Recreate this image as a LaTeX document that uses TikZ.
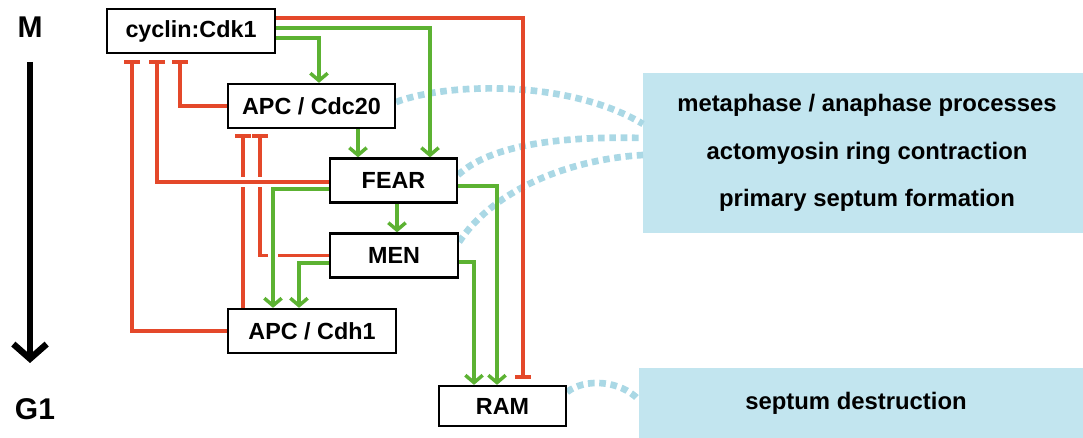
\documentclass[tikz,border=0pt]{standalone}
\usepackage{fontspec}
\setmainfont{Liberation Sans}
\usetikzlibrary{arrows.meta}
\pgfdeclarelayer{bg}\pgfsetlayers{bg,main}
\definecolor{inhred}{RGB}{228,72,42}
\definecolor{actgreen}{RGB}{92,178,50}
\definecolor{dashblue}{RGB}{170,216,229}
\definecolor{boxblue}{RGB}{194,229,239}
\begin{document}
\begin{tikzpicture}[x=0.75pt,y=-0.75pt,
  lbl/.style={font=\fontsize{17.5}{21}\selectfont\bfseries},
  infotext/.style={font=\fontsize{17.9}{21}\selectfont\bfseries},
  box/.style={lbl,draw=black,line width=1.7pt,fill=white,inner sep=0pt,minimum height=33pt},
  act/.style={draw=actgreen,line width=2.6pt,-{Straight Barb[length=5.5pt,width=13pt]}},
  inh/.style={draw=inhred,line width=2.6pt,-{Bar[width=11.5pt]}},
  cased/.style={preaction={draw=white,line width=8pt,arrows=-}},
  link/.style={draw=dashblue,line width=5pt,dash pattern=on 5pt off 3.5pt},
  phase/.style={font=\fontsize{22.5}{26}\selectfont\bfseries,inner sep=0pt},
  panel/.style={fill=boxblue,draw=none,inner sep=0pt,anchor=north west}
]
\useasboundingbox (0,0) rectangle (1083,438);

% phase labels and arrow
\node[phase] (m) at (30,27) {M};
\node[phase] (g1) at (35,409) {G1};
\coordinate (atop) at (30,62);
\coordinate (abot) at (30,363);
\draw[line width=4.8pt,-{Straight Barb[length=11pt,width=25pt]}] (atop) -- (abot);

% boxes
\node[box,minimum width=126pt] (cdk) at (191,31) {cyclin:Cdk1};
\node[box,minimum width=125.25pt] (cdc20) at (311.5,106) {APC / Cdc20};
\node[box,minimum width=95.25pt] (fear) at (393.5,180.5) {FEAR};
\node[box,minimum width=96pt] (men) at (394,255.5) {MEN};
\node[box,minimum width=126pt] (cdh1) at (312,331) {APC / Cdh1};
\node[box,minimum width=95.25pt,minimum height=30pt] (ram) at (502.5,406) {RAM};

% info panels
\begin{pgfonlayer}{bg}
\node[panel,minimum width=330pt,minimum height=120pt] (info1) at (643,73) {};
\node[panel,minimum width=333pt,minimum height=52.5pt] (info2) at (639,368) {};

% dashed links
\draw[link] (cdc20.east |- 0,102) .. controls (450,82) and (570,80) .. (info1.west |- 0,124);
\draw[link] (fear.east |- 0,175) .. controls (490,145) and (560,136) .. (info1.west |- 0,138);
\draw[link] (men.east |- 0,242) .. controls (490,195) and (560,160) .. (info1.west |- 0,155);
\draw[link] (ram.east |- 0,392) .. controls (585,378) and (620,380) .. (info2.west |- 0,400);

% inhibitions
\draw[inh,shorten >=4pt] (cdh1.north -| 243,0) -- (cdc20.south -| 243,0);
\draw[inh,shorten >=4pt] (men.west) -| (cdc20.south -| 260,0);
\draw[inh,shorten >=4.5pt] (cdk.east |- 0,18) -| (ram.north -| 523,0);
\draw[inh,shorten >=4.5pt] (cdc20.west) -| (cdk.south -| 180,0);
\draw[inh,shorten >=4.5pt] (cdh1.west) -| (cdk.south -| 132,0);

% activations
\draw[act] (cdk.east |- 0,28) -| (fear.north -| 430,0);
\draw[act] (cdk.east |- 0,38) -| (cdc20.north -| 319,0);
\draw[act] (cdc20.south -| 358,0) -- (fear.north -| 358,0);
\draw[act] (fear.south -| 397,0) -- (men.north -| 397,0);
\draw[act] (men.west |- 0,263) -| (cdh1.north -| 299,0);
\draw[act] (fear.east |- 0,186) -| (ram.north -| 497,0);
\draw[act] (men.east |- 0,262) -| (ram.north -| 474,0);

% crossing lines with gaps
\draw[inh,cased,shorten >=4.5pt] (fear.west |- 0,182) -| (cdk.south -| 157,0);
\draw[act,cased] (fear.west |- 0,189) -| (cdh1.north -| 273,0);
\end{pgfonlayer}

% panel texts
\node[infotext] (t1) at (867,105) {metaphase / anaphase processes};
\node[infotext] (t2) at (867,153) {actomyosin ring contraction};
\node[infotext] (t3) at (867,200) {primary septum formation};
\node[infotext] (t4) at (856,403) {septum destruction};
\end{tikzpicture}
\end{document}
